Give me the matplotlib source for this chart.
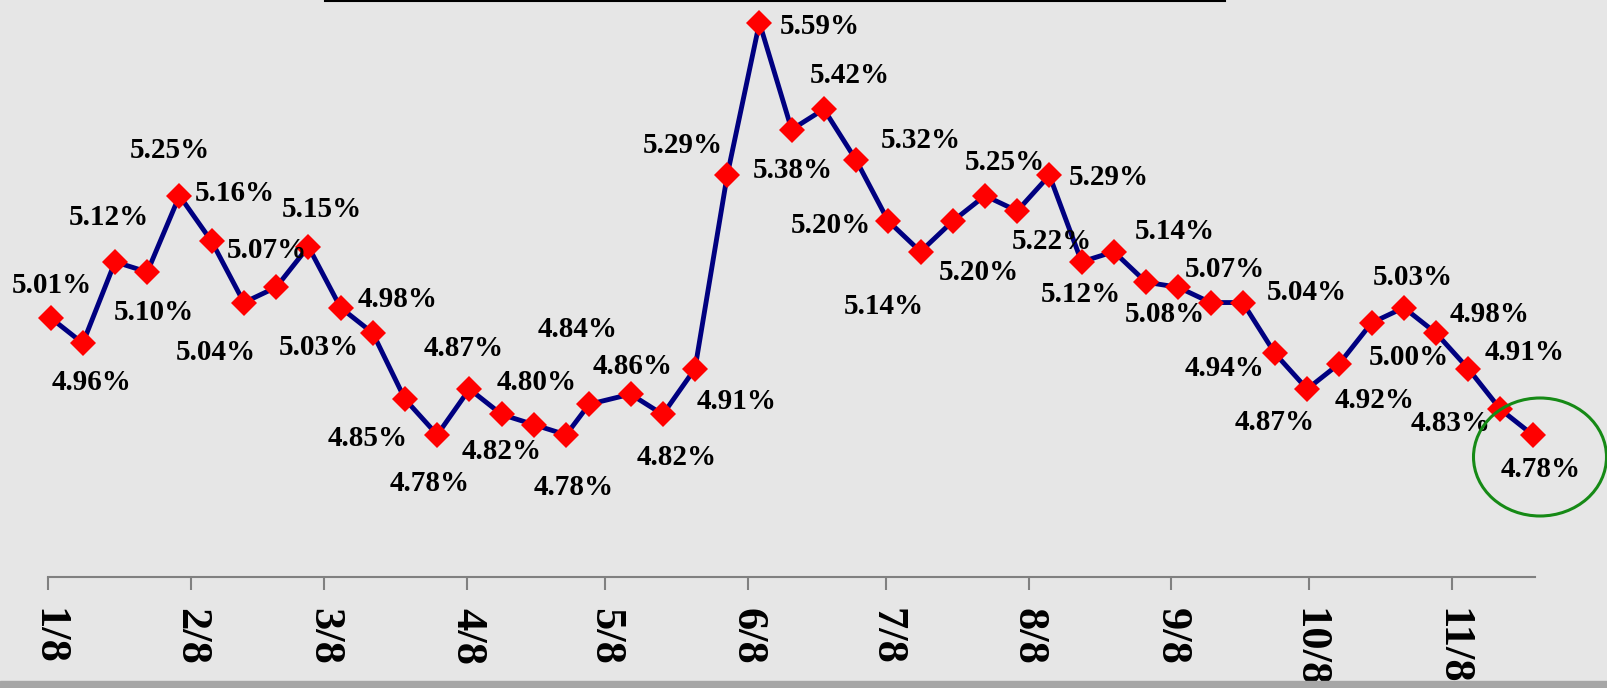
import matplotlib.pyplot as plt
import pandas as pd
from matplotlib.patches import Ellipse, Rectangle
from matplotlib.lines import Line2D

# weekly observations (2008)
dates = ['2008-01-01', '2008-01-08', '2008-01-15', '2008-01-22', '2008-01-29',
         '2008-02-05', '2008-02-12', '2008-02-19', '2008-02-26',
         '2008-03-04', '2008-03-11', '2008-03-18', '2008-03-25',
         '2008-04-01', '2008-04-08', '2008-04-15', '2008-04-22', '2008-04-27',
         '2008-05-06', '2008-05-13', '2008-05-20', '2008-05-27',
         '2008-06-03', '2008-06-10', '2008-06-17', '2008-06-24',
         '2008-07-01', '2008-07-08', '2008-07-15', '2008-07-22', '2008-07-29',
         '2008-08-05', '2008-08-12', '2008-08-19', '2008-08-26',
         '2008-09-02', '2008-09-09', '2008-09-16', '2008-09-23', '2008-09-30',
         '2008-10-07', '2008-10-14', '2008-10-21', '2008-10-28',
         '2008-11-04', '2008-11-11', '2008-11-18']
rates = [5.01, 4.96, 5.12, 5.10, 5.25, 5.16, 5.04, 5.07, 5.15, 5.03,
         4.98, 4.85, 4.78, 4.87, 4.82, 4.80, 4.78, 4.84, 4.86, 4.82,
         4.91, 5.29, 5.59, 5.38, 5.42, 5.32, 5.20, 5.14, 5.20, 5.25,
         5.22, 5.29, 5.12, 5.14, 5.08, 5.07, 5.04, 5.04, 4.94, 4.87,
         4.92, 5.00, 5.03, 4.98, 4.91, 4.83, 4.78]
tick_dates = ['2008-01-01', '2008-02-01', '2008-03-01', '2008-04-01', '2008-05-01',
              '2008-06-01', '2008-07-01', '2008-08-01', '2008-09-01', '2008-10-01',
              '2008-11-01']
tick_labels = ['1/8', '2/8', '3/8', '4/8', '5/8', '6/8', '7/8', '8/8', '9/8', '10/8', '11/8']

# label offsets from each point, in pixels (right, down); None = no label
label_offsets = [(1, -32), (9, 39), (-6, -44), (7, 40), (-10, -45), (23, -48),
                 (-28, 50), (-9, -37), (14, -37), (-22, 40), (25, -34), (-37, 39),
                 (-8, 49), (-6, -41), (0, 37), (3, -42), (8, 53), (-12, -75),
                 (2, -28), (14, 43), (42, 33), (-44, -30), (60, 4), (1, 41),
                 (26, -34), (65, -20), (-57, 4), (-37, 55), (26, 51), (20, -33),
                 (35, 31), (59, 2), (-1, 33), (61, -20), (19, 32), (47, -18),
                 None, (64, -10), (-50, 15), (-32, 33), (35, 37), (37, 35),
                 (9, -30), (54, -19), (56, -16), (-50, 14), (8, 35)]

W, H = 1608, 688
serif = 'Liberation Serif'

fig = plt.figure(figsize=(W / 100, H / 100), dpi=100, facecolor='#e6e6e6')
ax = fig.add_axes([48.3 / W, 1 - 577.3 / H, (1535 - 48.3) / W, 577.3 / H])
ax.set_facecolor('none')

x = pd.to_datetime(dates) + pd.Timedelta(hours=12)
ax.plot(x, rates, color='#000080', linewidth=3.5, marker='D', markersize=12.8,
        markerfacecolor='#ff0000', markeredgewidth=0, clip_on=False, zorder=3)

for xi, v, off in zip(x, rates, label_offsets):
    if off is None:
        continue
    ax.annotate(f'{v:.2f}%', (xi, v), xytext=(off[0], -off[1]), textcoords='offset pixels',
                ha='center', va='center', fontsize=21, fontweight='bold', family=serif,
                annotation_clip=False, zorder=4)

ax.set_xlim(pd.Timestamp('2008-01-01'), pd.Timestamp('2008-11-19'))
ax.set_ylim(4.5, 5.6346)
ax.set_xticks(pd.to_datetime(tick_dates))
ax.set_xticklabels(tick_labels, rotation=270, fontsize=32, fontweight='bold', family=serif)
ax.tick_params(axis='x', length=9.4, width=1.5, color='#808080', pad=13)
ax.set_yticks([])
for s in ['top', 'left', 'right']:
    ax.spines[s].set_visible(False)
ax.spines['bottom'].set_color('#808080')
ax.spines['bottom'].set_linewidth(1.5)

# green circle round the last value
fig.add_artist(Ellipse((1540 / W, 1 - 457 / H), 133 / W, 118 / H, transform=fig.transFigure,
                       fill=False, edgecolor='#168a16', linewidth=2.2))
# grey band at bottom, black rule at top
fig.add_artist(Rectangle((0, 0), 1, 7 / H, transform=fig.transFigure, color='#a6a6a6'))
fig.add_artist(Line2D([325 / W, 1225 / W], [1 - 1 / H, 1 - 1 / H], transform=fig.transFigure,
                      color='black', linewidth=1.5))

fig.savefig('out.png', dpi=100, facecolor=fig.get_facecolor())
